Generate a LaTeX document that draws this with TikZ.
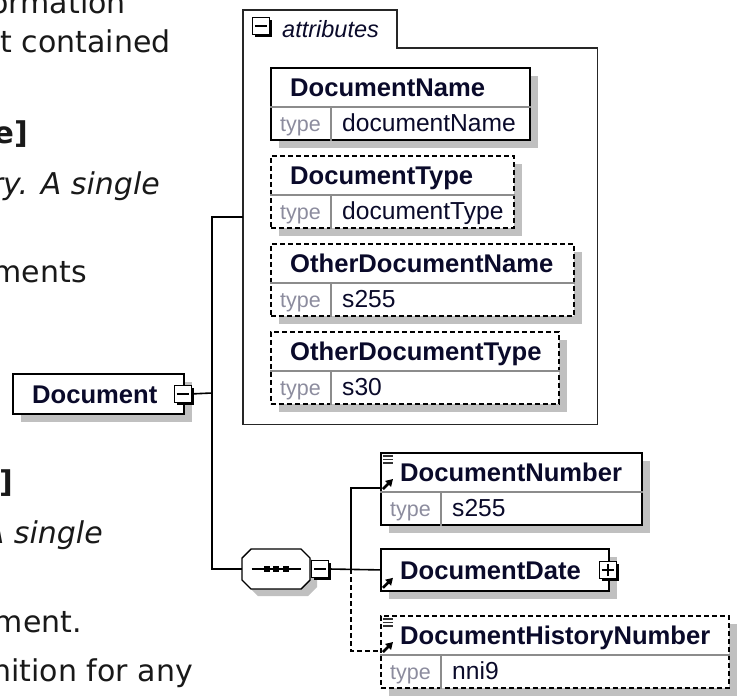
\documentclass[tikz,border=0pt]{standalone}
\usepackage{fontspec}
\setmainfont{Liberation Sans}
\newfontfamily\notefont{DejaVu Sans}
\usetikzlibrary{arrows.meta,shadows}

\definecolor{namecol}{RGB}{10,10,42}
\definecolor{typecol}{RGB}{140,140,158}
\definecolor{shadecol}{RGB}{192,192,192}
\definecolor{notecol}{RGB}{25,25,25}

\tikzset{
  conn/.style={line width=1.6pt, draw=black},
  elembox/.style={draw=black, line width=1.8pt, fill=white, inner sep=0pt,
    drop shadow={shadow xshift=8pt, shadow yshift=-8pt, fill=shadecol, opacity=1}},
  optbox/.style={dash pattern=on 5pt off 3pt},
  divider/.style={line width=1.4pt, draw=black!45},
  nametext/.style={font=\fontsize{25.6}{30}\selectfont\bfseries, text=namecol,
    inner sep=0pt, text height=18.3pt, text depth=0pt},
  typelabel/.style={font=\fontsize{21.5}{26}\selectfont, text=typecol,
    inner sep=0pt, text height=17.6pt, text depth=0pt},
  typevalue/.style={font=\fontsize{24.6}{29}\selectfont, text=namecol,
    inner sep=0pt, text height=17.6pt, text depth=0pt},
  toggle/.style={draw=black, line width=1.2pt, fill=white, minimum size=17pt, inner sep=0pt,
    drop shadow={shadow xshift=2.5pt, shadow yshift=-2.5pt, fill=black, opacity=1}},
  seqline/.style={draw=black, line width=1.4pt, fill=white},
  seqshade/.style={fill=shadecol},
  refarrow/.style={line width=2.6pt, -{Triangle[length=7pt,width=8pt]}},
  frame/.style={line width=1.6pt, draw=black!85},
  note/.style={font=\notefont\fontsize{30}{36}\selectfont, text=notecol, inner sep=0pt, anchor=base east},
  notebf/.style={note, font=\notefont\fontsize{30}{36}\selectfont\bfseries},
  noteit/.style={note, font=\notefont\fontsize{30}{36}\selectfont\itshape}
}

% element box with a type row: style, name, x, y, width, label, type
\newcommand{\typedelem}[7]{%
  \node[elembox, #1, minimum width=#5pt, minimum height=72pt, anchor=north west] (#2) at (#3,#4) {};
  \draw[divider] ([yshift=-40pt]#2.north west) -- ([yshift=-40pt]#2.north east);
  \draw[divider] ([xshift=61pt,yshift=-40pt]#2.north west) -- ([xshift=61pt]#2.south west);
  \node[nametext, anchor=west] (#2-name) at ([xshift=20pt,yshift=-20pt]#2.north west) {#6};
  \node[typelabel] (#2-type) at ([xshift=30.5pt,yshift=-56pt]#2.north west) {type};
  \node[typevalue, anchor=west] (#2-value) at ([xshift=72pt,yshift=-56pt]#2.north west) {#7};
}
% documentation lines in the upper left corner
\newcommand{\docmark}[1]{%
  \foreach \dy in {4,7.5,11}
    \draw[line width=1.1pt, black!80] ([xshift=3pt,yshift=-\dy pt]#1.north west) -- ++(10,0);
}

\begin{document}
\begin{tikzpicture}[x=1pt, y=-1pt]
  \useasboundingbox (0,0) rectangle (739,697);
  \clip (0,0) rectangle (739,697);
  \fill[white] (0,0) rectangle (739,697);

  % text of the page behind the diagram
  \node[note] (n1) at (126,13) {ormation};
  \node[note] (n2) at (171,52) {t contained};
  \node[notebf] (n3) at (28,143) {e]};
  \node[noteit] (n4) at (160,194) {ry. A single};
  \node[note] (n5) at (87,282) {ments};
  \node[notebf] (n6) at (13,492) {]};
  \node[noteit] (n7) at (103,543) {A single};
  \node[note] (n8) at (82,632) {ment.};
  \node[note] (n9) at (193,681) {nition for any};

  % root element
  \node[elembox, minimum width=171pt, minimum height=40pt, anchor=north west] (doc) at (12,373) {};
  \node[nametext, anchor=west] (doc-name) at ([xshift=20pt]doc.west) {Document};
  \node[toggle] (doc-tog) at ([xshift=-2pt]doc.east) {};
  \draw[line width=1.4pt] ([xshift=3pt]doc-tog.west) -- ([xshift=-3pt]doc-tog.east);

  % attributes group
  \node[inner sep=0pt, minimum width=354pt, minimum height=414pt, anchor=north west] (attrs) at (243,10) {};
  \draw[frame] (attrs.north west) -- ++(154,0) -- ++(0,38) -| (attrs.south east) -- (attrs.south west) -- cycle;
  \node[toggle] (attr-tog) at (261,26) {};
  \draw[line width=1.4pt] ([xshift=3pt]attr-tog.west) -- ([xshift=-3pt]attr-tog.east);
  \node[font=\fontsize{23.5}{28}\selectfont\itshape, text=namecol, inner sep=0pt,
    text height=17pt, text depth=0pt, anchor=west] (attr-title) at (282,29) {attributes};

  \typedelem{}{dname}{270}{67}{259}{DocumentName}{documentName}
  \typedelem{optbox}{dtype}{270}{155}{243}{DocumentType}{documentType}
  \typedelem{optbox}{oname}{270}{243}{303}{OtherDocumentName}{s255}
  \typedelem{optbox}{otype}{270}{331}{288}{OtherDocumentType}{s30}

  % sequence
  \foreach \s/\st in {7/seqshade,0/seqline}
    \path[\st, shift={(\s,\s)}] (251,549) -- (301,549) -- (310,558) -- (310,580)
      -- (301,589) -- (251,589) -- (242,580) -- (242,558) -- cycle;
  \node[inner sep=0pt, minimum width=68pt, minimum height=40pt] (seq) at (276,569) {};
  \draw[line width=1.6pt] ([xshift=-24.5pt]seq.center) -- ([xshift=24.5pt]seq.center);
  \foreach \dx in {-9.5,0,9.5}
    \fill ([xshift=\dx pt]seq.center) ++(-3,-3) rectangle ++(6,6);
  \node[toggle] (seq-tog) at ([xshift=10pt]seq.east) {};
  \draw[line width=1.4pt] ([xshift=3pt]seq-tog.west) -- ([xshift=-3pt]seq-tog.east);

  % child elements
  \typedelem{}{dnum}{380}{452}{261}{DocumentNumber}{s255}
  \docmark{dnum}
  \draw[refarrow] ([xshift=3pt,yshift=-37pt]dnum.north west) -- ++(10,-10);

  \node[elembox, minimum width=228pt, minimum height=42pt, anchor=north west] (ddate) at (380,548) {};
  \node[nametext, anchor=west] (ddate-name) at ([xshift=20pt]ddate.west) {DocumentDate};
  \draw[refarrow] ([xshift=3pt,yshift=4pt]ddate.south west) -- ++(10,-10);
  \node[toggle] (ddate-tog) at ([xshift=-2pt]ddate.east) {};
  \draw[line width=1.4pt] ([xshift=3pt]ddate-tog.west) -- ([xshift=-3pt]ddate-tog.east);
  \draw[line width=1.4pt] ([yshift=-3pt]ddate-tog.north) -- ([yshift=3pt]ddate-tog.south);

  \typedelem{optbox}{dhist}{380}{615}{348}{DocumentHistoryNumber}{nni9}
  \docmark{dhist}
  \draw[refarrow] ([xshift=3pt,yshift=-37pt]dhist.north west) -- ++(10,-10);

  % connectors
  \coordinate (spine) at (212,393);
  \coordinate (fork) at (351,569);
  \draw[conn] (doc-tog.east) -- (spine);
  \draw[conn] (attrs.west) -- (attrs.west -| spine) -- (seq.west -| spine) -- (seq.west);
  \draw[conn] (seq-tog.east) -- (ddate.west);
  \draw[conn] (fork) |- ([yshift=-36pt]dnum.north west);
  \draw[conn, optbox] (fork) |- ([yshift=-36pt]dhist.north west);
\end{tikzpicture}
\end{document}
